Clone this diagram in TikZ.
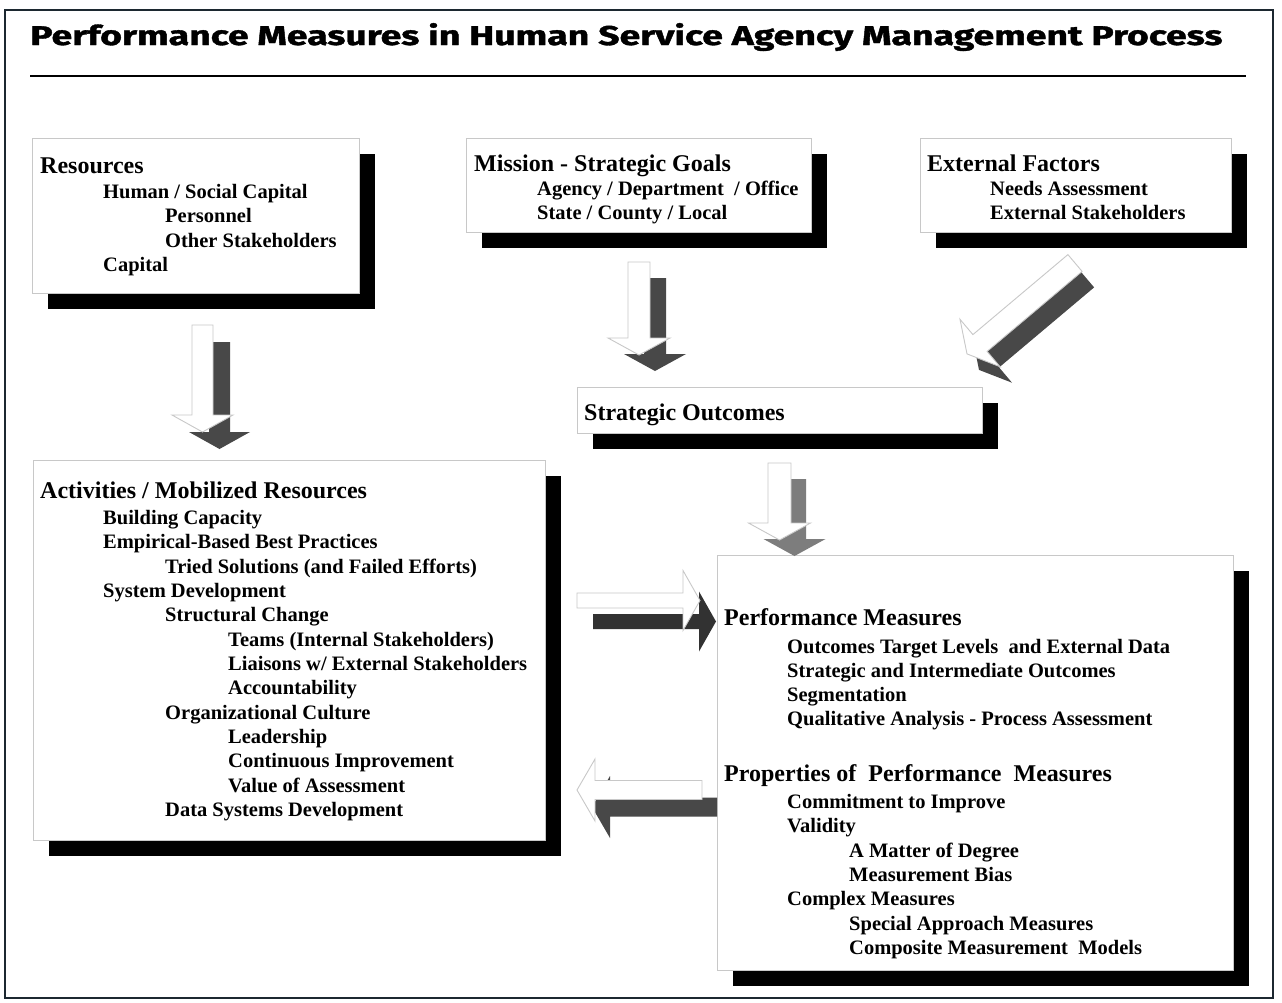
\documentclass[tikz,border=0pt]{standalone}
\usepackage{fontspec}
\setmainfont{Liberation Serif}
\newfontfamily\titlefam[BoldFeatures={FakeBold=1.2}]{Fira Sans}
\definecolor{frame}{RGB}{28,40,48}
\definecolor{edge}{RGB}{200,200,200}
\definecolor{arrdark}{RGB}{72,72,72}
\definecolor{arrgrey}{RGB}{125,125,125}
\definecolor{arrblack}{RGB}{50,50,50}
\newcommand\bodyf{\fontsize{20.5}{24}\selectfont\bfseries}
\newcommand\headf{\fontsize{24}{28}\selectfont\bfseries}
\begin{document}
\begin{tikzpicture}[x=1pt,y=-1pt,
  boxnode/.style={draw=edge, fill=white, line width=1pt, inner sep=0pt, anchor=north west},
  shad/.style={fill=black},
  warrow/.style={draw=edge, fill=white, line width=0.9pt, line join=miter},
  darrow/.style={fill=arrdark},
  tl/.style={anchor=base west, inner sep=0pt, font=\bodyf},
  hl/.style={anchor=base west, inner sep=0pt, font=\headf}]
\useasboundingbox (0,0) rectangle (1282,1002);
\fill[white] (0,0) rectangle (1282,1002);
\draw[frame, line width=2.5pt] (5,10) rectangle (1273,998);
% title
\node[anchor=base west, inner sep=0pt] (title) at (30,45)
  {\resizebox{1192pt}{22pt}{\titlefam\bfseries Performance Measures in Human Service Agency Management Process}};
\draw[black, line width=2pt] (30,76) -- (1246,76);
% shadows
\fill[shad] (48,154) rectangle (375,309);
\fill[shad] (482,154) rectangle (827,248);
\fill[shad] (936,154) rectangle (1247,248);
\fill[shad] (593,403) rectangle (998,449);
\fill[shad] (49,476) rectangle (561,856);
\fill[shad] (733,571) rectangle (1249,986);
% boxes
\node[boxnode, minimum width=327pt, minimum height=155pt] (res) at (32,138) {};
\node[boxnode, minimum width=345pt, minimum height=94pt] (mis) at (466,138) {};
\node[boxnode, minimum width=311pt, minimum height=94pt] (ext) at (920,138) {};
\node[boxnode, minimum width=405pt, minimum height=46pt] (so) at (577,387) {};
\node[boxnode, minimum width=512pt, minimum height=380pt] (act) at (33,460) {};
\node[boxnode, minimum width=516pt, minimum height=415pt] (pm) at (717,555) {};
% arrows: resources -> activities
\fill[darrow] (209,342) -- (230,342) -- (230,432) -- (250,432) -- (219.5,449) -- (189,432) -- (209,432) -- cycle;
\draw[warrow] (192,325) -- (213,325) -- (213,415) -- (233,415) -- (202.5,432) -- (172,415) -- (192,415) -- cycle;
% mission -> strategic outcomes
\fill[darrow] (644,278) -- (666,278) -- (666,354) -- (686,354) -- (655,371) -- (624,354) -- (644,354) -- cycle;
\draw[warrow] (628,262) -- (650,262) -- (650,338) -- (670,338) -- (639,355) -- (608,338) -- (628,338) -- cycle;
% external -> strategic outcomes
\fill[darrow] (1079.9,270.6) -- (984.9,350.6) -- (972.0,335.3) -- (979.0,369.9) -- (1012.0,382.7) -- (999.1,367.4) -- (1094.1,287.4) -- cycle;
\draw[warrow] (1067.9,254.6) -- (972.9,334.6) -- (960.0,319.3) -- (967.0,353.9) -- (1000.0,366.7) -- (987.1,351.4) -- (1082.1,271.4) -- cycle;
% strategic outcomes -> performance measures
\fill[arrgrey] (783,479) -- (806,479) -- (806,539) -- (825.5,539) -- (794.5,556) -- (763.5,539) -- (783,539) -- cycle;
\draw[warrow] (768,463) -- (791,463) -- (791,523) -- (810.5,523) -- (779.5,540) -- (748.5,523) -- (768,523) -- cycle;
% activities -> performance measures
\fill[arrblack] (593,614) -- (699,614) -- (699,591.5) -- (716,621.5) -- (699,651.5) -- (699,629) -- (593,629) -- cycle;
\draw[warrow] (577,593) -- (683,593) -- (683,570.5) -- (700,600.5) -- (683,630.5) -- (683,608) -- (577,608) -- cycle;
% performance measures -> activities
\fill[arrdark] (717,797.5) -- (610,797.5) -- (610,776) -- (592,807) -- (610,838) -- (610,816.5) -- (717,816.5) -- cycle;
\draw[warrow] (702,780.5) -- (595,780.5) -- (595,759) -- (577,790) -- (595,821) -- (595,799.5) -- (702,799.5) -- cycle;
% Resources text
\node[hl] (r0) at (40,173) {Resources};
\node[tl] (r1) at (103,198) {Human / Social Capital};
\node[tl] (r2) at (165,222) {Personnel};
\node[tl] (r3) at (165,247) {Other Stakeholders};
\node[tl] (r4) at (103,271) {Capital};
% Mission text
\node[hl] (m0) at (474,171) {Mission - Strategic Goals};
\node[tl] (m1) at (537,195) {Agency / Department \ / Office};
\node[tl] (m2) at (537,219) {State / County / Local};
% External text
\node[hl] (e0) at (927,171) {External Factors};
\node[tl] (e1) at (990,195) {Needs Assessment};
\node[tl] (e2) at (990,219) {External Stakeholders};
% Strategic outcomes
\node[hl] (s0) at (584,420) {Strategic Outcomes};
% Activities
\node[hl] (a0) at (40,498) {Activities / Mobilized Resources};
\node[tl] (a1) at (103,524) {Building Capacity};
\node[tl] (a2) at (103,548) {Empirical-Based Best Practices};
\node[tl] (a3) at (165,573) {Tried Solutions (and Failed Efforts)};
\node[tl] (a4) at (103,597) {System Development};
\node[tl] (a5) at (165,621) {Structural Change};
\node[tl] (a6) at (228,646) {Teams (Internal Stakeholders)};
\node[tl] (a7) at (228,670) {Liaisons w/ External Stakeholders};
\node[tl] (a8) at (228,694) {Accountability};
\node[tl] (a9) at (165,719) {Organizational Culture};
\node[tl] (a10) at (228,743) {Leadership};
\node[tl] (a11) at (228,767) {Continuous Improvement};
\node[tl] (a12) at (228,792) {Value of Assessment};
\node[tl] (a13) at (165,816) {Data Systems Development};
% Performance measures
\node[hl] (p0) at (724,625) {Performance Measures};
\node[tl] (p1) at (787,653) {Outcomes Target Levels \ and External Data};
\node[tl] (p2) at (787,677) {Strategic and Intermediate Outcomes};
\node[tl] (p3) at (787,701) {Segmentation};
\node[tl] (p4) at (787,725) {Qualitative Analysis - Process Assessment};
\node[hl] (q0) at (724,781) {Properties of \ Performance \ Measures};
\node[tl] (q1) at (787,808) {Commitment to Improve};
\node[tl] (q2) at (787,832) {Validity};
\node[tl] (q3) at (849,857) {A Matter of Degree};
\node[tl] (q4) at (849,881) {Measurement Bias};
\node[tl] (q5) at (787,905) {Complex Measures};
\node[tl] (q6) at (849,930) {Special Approach Measures};
\node[tl] (q7) at (849,954) {Composite Measurement \ Models};
\end{tikzpicture}
\end{document}
